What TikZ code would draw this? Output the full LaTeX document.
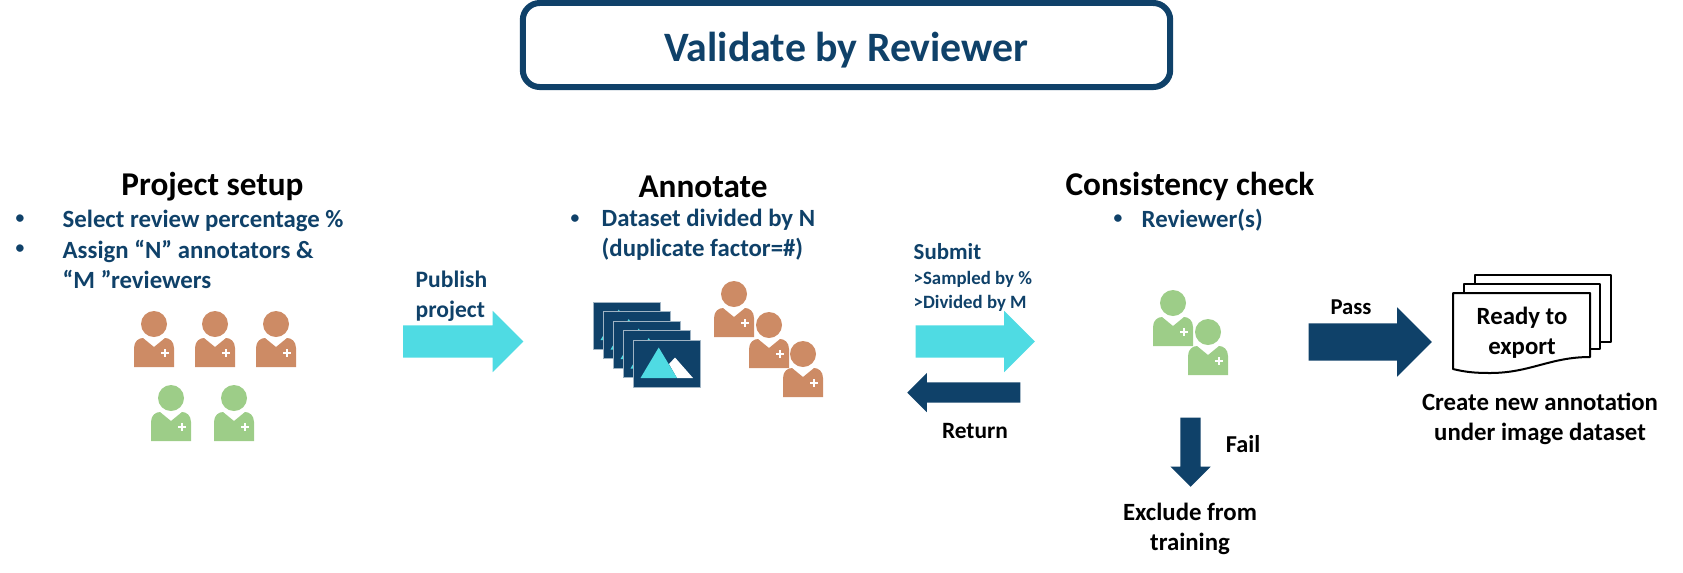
\documentclass[tikz,border=0pt]{standalone}
\usepackage{fontspec}
\setmainfont{Carlito}
\usetikzlibrary{shapes.arrows}
\definecolor{navy}{HTML}{0F4169}
\definecolor{aqua}{HTML}{4FDBE3}
\definecolor{annot}{HTML}{CD8B65}
\definecolor{review}{HTML}{9DCD88}
\tikzset{
    heading/.style={font=\fontsize{9.45}{11}\bfseries\selectfont},
    note/.style={text=navy, align=left, inner sep=0, font=\fontsize{7.05}{8.5}\bfseries\selectfont},
    dot/.style={text=navy, inner sep=0, font=\fontsize{5}{6}\bfseries\selectfont},
    label/.style={align=center, inner sep=0, font=\fontsize{7.05}{8.5}\bfseries\selectfont},
    blockarrow/.style n args={3}{single arrow, anchor=tail, inner xsep=0, inner ysep=#2*.5, minimum height=#1, single arrow head extend=(#3-#2)*.5},
    person/.pic={
        \fill[pic actions] (0,0) circle (13);
        \fill[pic actions] (-20,43)--(-20,24) .. controls (-20,17) and (-15,14) .. (-11,14)--(0,23)--(11,14) .. controls (15,14) and (20,17) .. (20,24)--(20,43)--cycle;
        \draw[white, line width=.02cm] (7,29)--(15,29) (11,25)--(11,33);
    }
}
\begin{document}
\begin{tikzpicture}[x=.01cm, y=-.01cm, line join=round]
    \useasboundingbox (0,0) rectangle (1683,572);
    \node[draw=navy, line width=.06cm, rounded corners=.17cm, minimum width=6.47cm, minimum height=.84cm] (titlebox) at (846.5,45) {};
    \node[text=navy, font=\fontsize{11.9}{14}\bfseries\selectfont] (title) at (846.5,50) {Validate by Reviewer};
    \node[heading] (setup) at (212.5,187) {Project setup};
    \node[heading] (annotate) at (703,187) {Annotate};
    \node[heading] (check) at (1190,186) {Consistency check};
    \node[dot] (b1) at (20,219) {•};
    \node[dot] (b2) at (20,249) {•};
    \node[note, anchor=west] (s1) at (62,221) {Select review percentage \%};
    \node[note, anchor=west] (s2) at (62,264) {Assign “N” annotators \&\\“M ”reviewers};
    \node[dot] (b3) at (575,219) {•};
    \node[note, anchor=west] (s3) at (601,235) {Dataset divided by N\\(duplicate factor=\#)};
    \node[dot] (b4) at (1118,219) {•};
    \node[note, anchor=west] (s4) at (1141,220) {Reviewer(s)};
    \foreach \x/\y in {154/324,215/324,276/324,734/294,769/325,803/354}
        \pic[fill=annot] at (\x,\y) {person};
    \foreach \x/\y in {171/398,234/398,1173/303,1208/332}
        \pic[fill=review] at (\x,\y) {person};
    \foreach \i in {0,1,2,3,4}{
        \begin{scope}[shift={(593+10*\i,302+9.5*\i)}]
            \fill[navy, draw=navy!40!white, line width=.01cm] (0,0) rectangle (67,47);
            \fill[white] (36,24)--(42,17.5)--(60,38)--(44,38)--cycle;
            \fill[aqua] (7.5,38)--(25.7,7.5)--(44,38)--cycle;
        \end{scope}
    }
    \node[note, anchor=west, font=\fontsize{6.7}{8.5}\bfseries\selectfont] (publish) at (415,296) {Publish\\project};
    \node[blockarrow={1.2cm}{.31cm}{.6cm}, fill=aqua] (pubarrow) at (402.5,341.5) {};
    \node[note, anchor=west, font=\fontsize{6.5}{8}\bfseries\selectfont] (submit) at (913,252) {Submit};
    \node[note, anchor=west, font=\fontsize{5.35}{6.8}\bfseries\selectfont] (sampled) at (913,291) {>Sampled by \%\\>Divided by M};
    \node[blockarrow={1.19cm}{.31cm}{.6cm}, fill=aqua] (subarrow) at (915,341.5) {};
    \node[blockarrow={1.13cm}{.19cm}{.38cm}, fill=navy, rotate=180] (retarrow) at (1021,392.5) {};
    \node[label, font=\fontsize{6.65}{8}\bfseries\selectfont] (return) at (975,431) {Return};
    \node[blockarrow={1.23cm}{.36cm}{.68cm}, fill=navy] (passarrow) at (1308,342) {};
    \node[label, font=\fontsize{6.45}{8}\bfseries\selectfont] (pass) at (1351,307) {Pass};
    \node[blockarrow={.69cm}{.19cm}{.39cm}, fill=navy, rotate=270] (failarrow) at (1190.5,417) {};
    \node[label, font=\fontsize{6.9}{8}\bfseries\selectfont] (fail) at (1243,444) {Fail};
    \node[label] (exclude) at (1190,529) {Exclude from\\training};
    \draw[fill=white, line width=.02cm] (1475,275) rectangle (1611,342);
    \draw[fill=white, line width=.02cm] (1464,284) rectangle (1600,349);
    \draw[fill=white, line width=.02cm] (1453,293)--(1590,293)--(1590,357) .. controls (1550,357) and (1530,373) .. (1490,373) .. controls (1475,373) and (1465,372) .. (1453,369)--cycle;
    \node[label] (ready) at (1522,332.5) {Ready to\\export};
    \node[label] (create) at (1540,419) {Create new annotation\\under image dataset};
\end{tikzpicture}
\end{document}
